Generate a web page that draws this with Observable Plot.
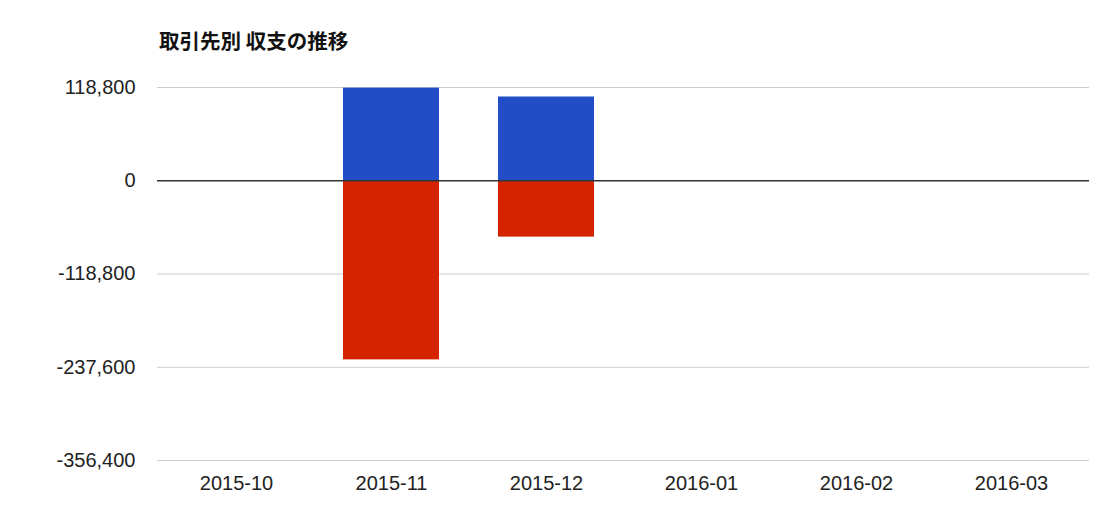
<!DOCTYPE html>
<html><head><meta charset="utf-8">
<script src="https://cdn.jsdelivr.net/npm/d3@7"></script>
<script src="https://cdn.jsdelivr.net/npm/@observablehq/plot@0.6"></script>
<style>
body{margin:0;background:#fff;}
#wrap{position:relative;width:1096px;height:526px;}
#title{position:absolute;left:159px;top:26px;font-family:"Noto Sans CJK JP",sans-serif;font-weight:bold;font-size:20.5px;line-height:28px;color:#111;}
</style></head>
<body><div id="wrap"><div id="title">取引先別 収支の推移</div></div>
<script>
const months = ["2015-10","2015-11","2015-12","2016-01","2016-02","2016-03"];
const income = [0, 118000, 106700, 0, 0, 0];
const expense = [0, -228200, -71800, 0, 0, 0];
const yTicks = [118800, 0, -118800, -237600, -356400];
const seriesNames = ["収入", "支出"];
const seriesColors = ["#234dc6", "#d52300"];

const rows = [];
months.forEach((m, i) => {
  rows.push({month: m, value: income[i], series: seriesNames[0]});
  rows.push({month: m, value: expense[i], series: seriesNames[1]});
});

const fmt = d => d3.format(",")(d).replace("−", "-");

const chart = Plot.plot({
  width: 1096, height: 526,
  marginLeft: 157, marginRight: 7, marginTop: 87, marginBottom: 66,
  style: {fontFamily: "'Liberation Sans', Arial, sans-serif", fontSize: "20px", color: "#222", background: "#fff"},
  x: {domain: months, paddingInner: 0.382, paddingOuter: 0.191, label: null, tickSize: 0, tickPadding: 15},
  y: {domain: [-356400, 118800], ticks: yTicks, tickFormat: fmt, label: null, tickSize: 0, tickPadding: 22},
  color: {domain: seriesNames, range: seriesColors},
  marks: [
    Plot.ruleY(yTicks.filter(d => d !== 0), {stroke: "#ccc", strokeWidth: 1.2}),
    Plot.barY(rows, {x: "month", y: "value", fill: "series"}),
    Plot.ruleY([0], {stroke: "#333", strokeWidth: 1.3}),
    Plot.axisX({tickSize: 0, tickPadding: 15, fontSize: 20, label: null}),
    Plot.axisY({ticks: yTicks, tickFormat: fmt, tickSize: 0, tickPadding: 22, fontSize: 20, label: null})
  ]
});
document.getElementById("wrap").appendChild(chart);
</script></body></html>
